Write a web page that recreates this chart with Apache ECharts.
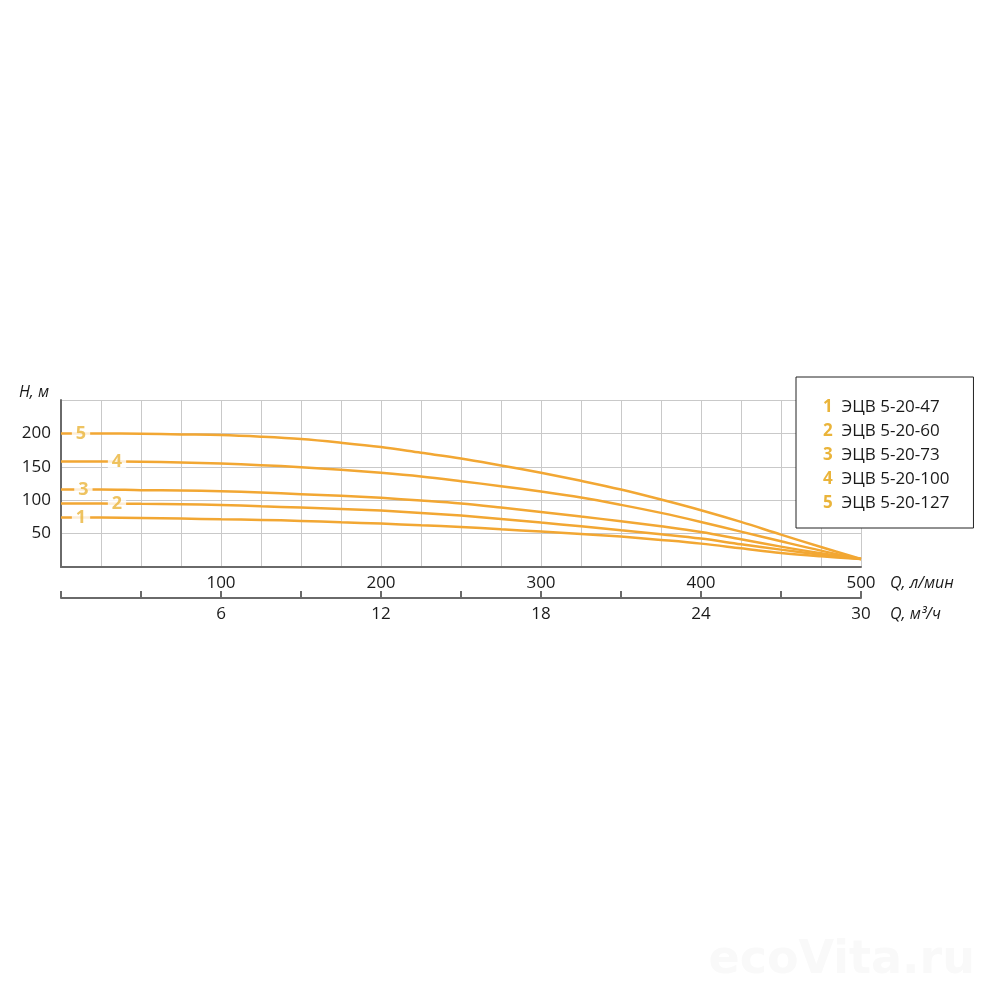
<!DOCTYPE html>
<html><head><meta charset="utf-8">
<script src="https://cdn.jsdelivr.net/npm/echarts@6/dist/echarts.min.js"></script>
<style>html,body{margin:0;padding:0;background:#fff}#c{width:1000px;height:1000px}</style>
</head><body><div id="c"></div>
<script>
const flowLpm = [0, 25, 50, 75, 100, 125, 150, 175, 200, 225, 250, 275, 300, 325, 350, 375, 400, 425, 450, 475, 500];
const seriesNames = ['ЭЦВ 5-20-47', 'ЭЦВ 5-20-60', 'ЭЦВ 5-20-73', 'ЭЦВ 5-20-100', 'ЭЦВ 5-20-127'];
const curveNums = ['1', '2', '3', '4', '5'];
const head1 = [74, 74, 73.5, 72.5, 71.5, 70.5, 69, 67, 65, 62.5, 60, 56.5, 53, 49.5, 45.5, 40.5, 35, 28, 21, 16, 12];
const head2 = [95, 95, 94.5, 94, 93, 91, 89, 87, 84.5, 81, 77, 72, 66.5, 61, 55, 49, 42.5, 34, 26, 18.5, 12];
const head3 = [116, 116, 115, 114.5, 113.5, 111.5, 109, 106.5, 103.5, 99.5, 95, 89, 82.5, 75.5, 68.5, 61, 52.5, 41.5, 30.5, 20.5, 12];
const head4 = [158, 158, 157.5, 156.5, 155, 152.5, 149.5, 145.5, 141, 135.5, 128.5, 121, 113, 104, 93, 81, 67.5, 53, 38.5, 24.5, 12];
const head5 = [200, 200, 199.5, 198.5, 197.5, 195, 191.5, 186, 179.5, 171, 162.5, 152, 141, 129, 116, 101, 85, 67.5, 48.5, 30, 12];
const heads = [head1, head2, head3, head4, head5];
// where the curve number sits along each curve (flow, l/min)
const labelFlow = [12.5, 35, 14, 35, 12.5];
const labelHead = [74, 95, 116, 158, 200];
const yTicks = [50, 100, 150, 200];
const qTicksLpm = [100, 200, 300, 400, 500];
const qTicksM3h = [6, 12, 18, 24, 30];

const FONT = '"Open Sans", "Noto Sans", sans-serif';
const LINE = '#F2A733';
const NUM = '#EAB43A';
const AX = '#6a6a6a';
const TXT = '#1a1a1a';

const chart = echarts.init(document.getElementById('c'), null, {renderer: 'canvas'});

const lineSeries = heads.map((h, i) => ({
  name: seriesNames[i],
  type: 'line',
  smooth: 0.35,
  symbol: 'none',
  data: flowLpm.map((q, k) => [q, h[k]]),
  lineStyle: {color: LINE, width: 2.5},
  itemStyle: {color: LINE},
  z: 3
}));

const labelSeries = {
  type: 'scatter',
  symbolSize: 0,
  silent: true,
  z: 5,
  data: curveNums.map((n, i) => ({value: [labelFlow[i], labelHead[i]], name: n})),
  label: {
    show: true,
    position: 'inside',
    formatter: p => p.name,
    color: NUM,
    fontFamily: FONT,
    fontSize: 18,
    fontWeight: 'bold',
    backgroundColor: '#fff',
    padding: [0, 4, 0, 4]
  }
};

const axisNameStyle = {fontFamily: FONT, fontSize: 16, fontStyle: 'italic', color: TXT, verticalAlign: 'top', padding: [8, 0, 0, 0]};

chart.setOption({
  animation: false,
  backgroundColor: '#fff',
  grid: {left: 61, right: 139, top: 400, bottom: 433},
  legend: {
    orient: 'vertical',
    left: 796,
    top: 377,
    data: seriesNames,
    icon: 'rect',
    itemWidth: 0,
    itemHeight: 0,
    itemGap: 7,
    padding: [22, 24, 16, 22],
    borderColor: '#222',
    borderWidth: 1,
    backgroundColor: '#fff',
    selectedMode: false,
    formatter: name => '{n|' + curveNums[seriesNames.indexOf(name)] + '}  ' + name,
    textStyle: {
      fontFamily: FONT, fontSize: 17, color: TXT,
      rich: {n: {color: NUM, fontFamily: FONT, fontSize: 17, fontWeight: 'bold'}}
    }
  },
  xAxis: [{
    type: 'value', min: 0, max: 500, interval: 25,
    axisLine: {show: true, onZero: false, lineStyle: {color: AX, width: 2}},
    axisTick: {show: false},
    splitLine: {show: true, lineStyle: {color: '#c9c9c9', width: 1}},
    axisLabel: {
      fontFamily: FONT, fontSize: 17, color: TXT, margin: 8,
      formatter: v => qTicksLpm.includes(v) ? String(v) : ''
    },
    name: 'Q, л/мин',
    nameLocation: 'end',
    nameGap: 29,
    nameTextStyle: axisNameStyle
  }, {
    type: 'value', min: 0, max: 30, interval: 3,
    position: 'bottom', offset: 31,
    axisLine: {show: true, onZero: false, lineStyle: {color: AX, width: 2}},
    axisTick: {show: true, inside: true, length: 7, lineStyle: {color: AX, width: 2}},
    splitLine: {show: false},
    axisLabel: {
      fontFamily: FONT, fontSize: 17, color: TXT, margin: 8,
      formatter: v => qTicksM3h.includes(v) ? String(v) : ''
    },
    name: 'Q, м³/ч',
    nameLocation: 'end',
    nameGap: 29,
    nameTextStyle: axisNameStyle
  }],
  yAxis: {
    type: 'value', min: 0, max: 250, interval: 50,
    axisLine: {show: true, onZero: false, lineStyle: {color: AX, width: 2}},
    axisTick: {show: false},
    splitLine: {show: true, lineStyle: {color: '#c9c9c9', width: 1}},
    axisLabel: {
      fontFamily: FONT, fontSize: 17, color: TXT, margin: 10,
      formatter: v => yTicks.includes(v) ? String(v) : ''
    },
    name: 'H, м',
    nameLocation: 'end',
    nameGap: 0,
    nameTextStyle: {fontFamily: FONT, fontSize: 16, fontStyle: 'italic', color: TXT, align: 'right', verticalAlign: 'bottom', padding: [0, 12, 0, 0]}
  },
  graphic: [{
    type: 'text', right: 25, top: 938, silent: true,
    style: {text: 'ecoVita.ru', fontFamily: '"DejaVu Sans", sans-serif', fontSize: 46, fontWeight: 'bold', fill: '#f9f9f9'}
  }],
  series: [...lineSeries, labelSeries]
});
</script></body></html>
